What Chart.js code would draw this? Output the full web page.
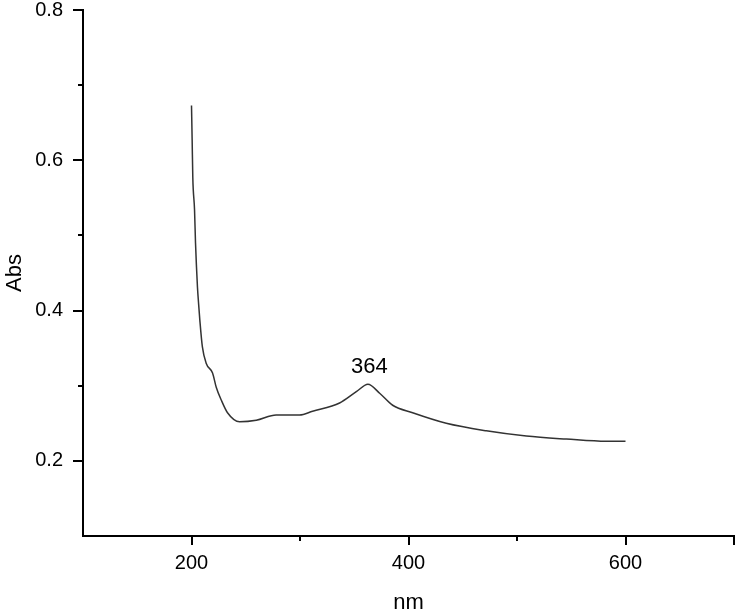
<!DOCTYPE html>
<html>
<head>
<meta charset="utf-8">
<script src="https://cdn.jsdelivr.net/npm/chart.js@4.4.0/dist/chart.umd.min.js"></script>
<style>
  html, body { margin: 0; padding: 0; background: #fff; }
  #wrap { width: 737px; height: 614px; }
</style>
</head>
<body>
<div id="wrap"><canvas id="absChart" width="737" height="614"></canvas></div>
<script>
// Spectrum
const wavelengths = [200, 200.6, 201.2, 202.8, 203.7, 204.6, 205.5, 206.5, 207.7, 210, 213.5, 219.4, 222.8, 227.4, 233.2, 244.3,
    259.7, 278, 299.6, 311.6, 336.5, 351.9, 362.6, 373.4, 385.4, 403.8, 434.8, 471.7, 508.6, 545.5, 582.4, 600];
const absValues = [0.673, 0.627, 0.577, 0.534, 0.490, 0.458, 0.431, 0.410, 0.387, 0.352, 0.330, 0.317, 0.298, 0.281, 0.264, 0.252,
    0.254, 0.261, 0.261, 0.266, 0.277, 0.292, 0.302, 0.290, 0.274, 0.264, 0.250, 0.240, 0.233, 0.229, 0.226, 0.226];

const xTickLabels = [200, 400, 600];
const yTickLabels = [0.2, 0.4, 0.6, 0.8];
const xMinorTicks = [300, 500];
const yMinorTicks = [0.3, 0.5, 0.7];

// peak annotation
const peakText = '364';
const peakTextPos = [364, 0.325];

const tickFont = { family: 'Liberation Sans, Arial, sans-serif', size: 20 };
const titleFont = { family: 'Liberation Sans, Arial, sans-serif', size: 22, lineHeight: 1 };

const isLabel = (list, v) => list.some(t => Math.abs(t - v) < 1e-6);

// tick marks (long for labelled, short for minor) + peak label
const extrasPlugin = {
    id: 'extras',
    afterDraw(chart) {
        const { ctx, chartArea, scales } = chart;
        ctx.save();
        ctx.lineWidth = 2;
        ctx.strokeStyle = '#000';
        ctx.beginPath();
        xTickLabels.concat([700]).forEach(v => {
            const px = Math.round(scales.x.getPixelForValue(v));
            ctx.moveTo(px, chartArea.bottom);
            ctx.lineTo(px, chartArea.bottom + 9);
        });
        yTickLabels.forEach(v => {
            const py = Math.round(scales.y.getPixelForValue(v));
            ctx.moveTo(chartArea.left, py);
            ctx.lineTo(chartArea.left - 10, py);
        });
        xMinorTicks.forEach(v => {
            const px = Math.round(scales.x.getPixelForValue(v));
            ctx.moveTo(px, chartArea.bottom);
            ctx.lineTo(px, chartArea.bottom + 5);
        });
        yMinorTicks.forEach(v => {
            const py = Math.round(scales.y.getPixelForValue(v));
            ctx.moveTo(chartArea.left, py);
            ctx.lineTo(chartArea.left - 5, py);
        });
        ctx.stroke();

        ctx.fillStyle = '#000';
        ctx.font = '22px "Liberation Sans", Arial, sans-serif';
        ctx.textAlign = 'center';
        ctx.textBaseline = 'middle';
        ctx.fillText(peakText, scales.x.getPixelForValue(peakTextPos[0]), scales.y.getPixelForValue(peakTextPos[1]));
        ctx.restore();
    }
};

const absChart = new Chart(document.getElementById('absChart').getContext('2d'), {
    type: 'line',
    data: {
        datasets: [{
            label: 'Abs',
            data: wavelengths.map((w, i) => ({ x: w, y: absValues[i] })),
            borderColor: '#333',
            borderWidth: 1.5,
            pointRadius: 0,
            cubicInterpolationMode: 'monotone',
            fill: false
        }]
    },
    options: {
        responsive: false,
        animation: false,
        layout: { padding: { top: 10, right: 3, left: 0, bottom: 0 } },
        plugins: {
            legend: { display: false },
            tooltip: { enabled: false }
        },
        scales: {
            x: {
                type: 'linear',
                min: 100,
                max: 700,
                afterFit: scale => { scale.height = 78; scale.paddingRight = 0; scale.paddingLeft = 0; },
                border: { color: '#000', width: 2 },
                grid: { drawOnChartArea: false, tickLength: 9, tickColor: 'rgba(0,0,0,0)' },
                ticks: {
                    stepSize: 100,
                    padding: 6,
                    color: '#000',
                    font: tickFont,
                    maxRotation: 0,
                    callback: v => isLabel(xTickLabels, v) ? v : ''
                },
                title: { display: true, text: 'nm', color: '#000', font: titleFont, padding: { top: 0, bottom: 0 } }
            },
            y: {
                type: 'linear',
                min: 0.1,
                max: 0.8,
                afterFit: scale => { scale.width = 83; scale.paddingTop = 0; scale.paddingBottom = 0; },
                border: { color: '#000', width: 2 },
                grid: { drawOnChartArea: false, tickLength: 10, tickColor: 'rgba(0,0,0,0)' },
                ticks: {
                    stepSize: 0.1,
                    padding: 10,
                    color: '#000',
                    font: tickFont,
                    callback: v => isLabel(yTickLabels, v) ? v.toFixed(1) : ''
                },
                title: { display: true, text: 'Abs', color: '#000', font: titleFont, padding: { top: 4, bottom: 0 } }
            }
        }
    },
    plugins: [extrasPlugin]
});
</script>
</body>
</html>
